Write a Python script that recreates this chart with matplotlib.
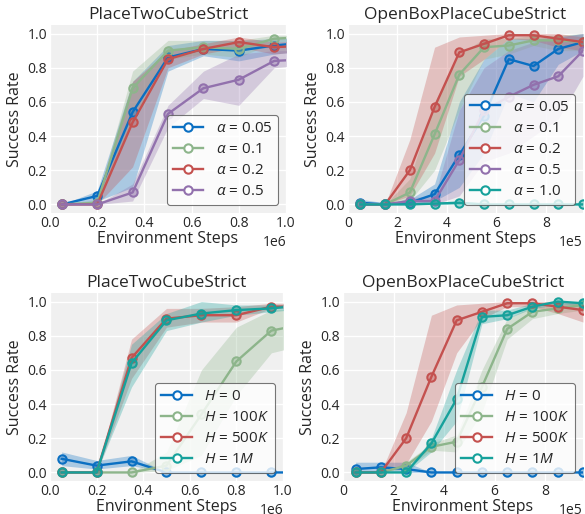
import matplotlib
matplotlib.use('Agg')
import matplotlib.pyplot as plt
from matplotlib.lines import Line2D

# ---- data ----
x_ptc = [0.05e6, 0.2e6, 0.35e6, 0.5e6, 0.65e6, 0.8e6, 0.95e6, 1.1e6]
x_obp = [0.5e5, 1.5e5, 2.5e5, 3.5e5, 4.5e5, 5.5e5, 6.5e5, 7.5e5, 8.5e5, 9.5e5]

alpha_labels_ptc = [r'$\alpha$ = 0.05', r'$\alpha$ = 0.1', r'$\alpha$ = 0.2', r'$\alpha$ = 0.5']
alpha_labels_obp = alpha_labels_ptc + [r'$\alpha$ = 1.0']
h_labels = [r'$H$ = 0', r'$H$ = 100$K$', r'$H$ = 500$K$', r'$H$ = 1$M$']

# top-left: PlaceTwoCubeStrict, alpha sweep (mean, low, high)
a_ptc_mean = [
    [0.0, 0.05, 0.54, 0.86, 0.91, 0.90, 0.93, 0.95],
    [0.0, 0.01, 0.68, 0.90, 0.92, 0.91, 0.97, 0.98],
    [0.0, 0.0, 0.48, 0.85, 0.91, 0.95, 0.92, 0.93],
    [0.0, 0.0, 0.07, 0.53, 0.68, 0.73, 0.84, 0.85],
]
a_ptc_low = [
    [0.0, 0.02, 0.10, 0.78, 0.87, 0.84, 0.88, 0.90],
    [0.0, 0.0, 0.50, 0.85, 0.88, 0.86, 0.95, 0.96],
    [0.0, 0.0, 0.22, 0.80, 0.88, 0.92, 0.88, 0.90],
    [0.0, 0.0, 0.02, 0.45, 0.62, 0.58, 0.80, 0.82],
]
a_ptc_high = [
    [0.0, 0.08, 0.72, 0.93, 0.96, 0.96, 0.97, 0.98],
    [0.0, 0.03, 0.78, 0.96, 0.96, 0.96, 0.99, 0.99],
    [0.0, 0.02, 0.72, 0.90, 0.94, 0.98, 0.95, 0.96],
    [0.0, 0.0, 0.12, 0.58, 0.78, 0.88, 0.90, 0.90],
]

# top-right: OpenBoxPlaceCubeStrict, alpha sweep
a_obp_mean = [
    [0.01, 0.0, 0.01, 0.06, 0.29, 0.52, 0.85, 0.81, 0.91, 0.95],
    [0.0, 0.0, 0.07, 0.41, 0.76, 0.92, 0.93, 0.96, 0.96, 0.95],
    [0.0, 0.0, 0.20, 0.57, 0.89, 0.94, 0.99, 0.99, 0.97, 0.95],
    [0.0, 0.0, 0.02, 0.02, 0.26, 0.55, 0.63, 0.70, 0.75, 0.90],
    [0.0, 0.0, 0.0, 0.005, 0.01, 0.0, 0.0, 0.0, 0.0, 0.0],
]
a_obp_low = [
    [0.0, 0.0, 0.0, 0.02, 0.10, 0.30, 0.65, 0.60, 0.82, 0.90],
    [0.0, 0.0, 0.02, 0.20, 0.55, 0.85, 0.88, 0.93, 0.90, 0.90],
    [0.0, 0.0, 0.05, 0.30, 0.75, 0.85, 0.97, 0.96, 0.92, 0.90],
    [0.0, 0.0, 0.0, 0.0, 0.05, 0.25, 0.30, 0.40, 0.50, 0.75],
    [0.0, 0.0, 0.0, 0.0, 0.0, 0.0, 0.0, 0.0, 0.0, 0.0],
]
a_obp_high = [
    [0.03, 0.01, 0.03, 0.12, 0.60, 0.85, 0.97, 0.97, 0.98, 1.0],
    [0.0, 0.0, 0.15, 0.60, 0.88, 0.97, 0.97, 0.99, 0.99, 1.0],
    [0.0, 0.0, 0.38, 0.92, 0.98, 0.99, 1.0, 1.0, 1.0, 0.98],
    [0.0, 0.0, 0.04, 0.05, 0.55, 0.80, 0.90, 0.95, 0.98, 1.0],
    [0.01, 0.01, 0.01, 0.015, 0.02, 0.01, 0.01, 0.01, 0.01, 0.01],
]

# bottom-left: PlaceTwoCubeStrict, H sweep
h_ptc_mean = [
    [0.08, 0.04, 0.065, 0.0, 0.0, 0.0, 0.0, 0.0],
    [0.0, 0.0, 0.0, 0.04, 0.34, 0.65, 0.83, 0.87],
    [0.0, 0.0, 0.67, 0.90, 0.92, 0.92, 0.97, 0.97],
    [0.0, 0.0, 0.64, 0.89, 0.93, 0.95, 0.96, 0.98],
]
h_ptc_low = [
    [0.04, 0.02, 0.04, 0.0, 0.0, 0.0, 0.0, 0.0],
    [0.0, 0.0, 0.0, 0.01, 0.10, 0.45, 0.70, 0.75],
    [0.0, 0.0, 0.55, 0.85, 0.88, 0.88, 0.96, 0.96],
    [0.0, 0.0, 0.50, 0.83, 0.88, 0.92, 0.94, 0.96],
]
h_ptc_high = [
    [0.12, 0.07, 0.10, 0.0, 0.0, 0.0, 0.0, 0.0],
    [0.0, 0.0, 0.0, 0.12, 0.60, 0.85, 0.95, 0.97],
    [0.0, 0.0, 0.78, 0.96, 0.96, 0.97, 0.99, 0.99],
    [0.0, 0.0, 0.75, 0.93, 1.0, 0.98, 0.98, 0.99],
]

# bottom-right: OpenBoxPlaceCubeStrict, H sweep
h_obp_mean = [
    [0.02, 0.03, 0.02, 0.0, 0.0, 0.0, 0.0, 0.0, 0.0, 0.0],
    [0.0, 0.0, 0.04, 0.15, 0.18, 0.50, 0.84, 0.94, 0.96, 0.98],
    [0.0, 0.0, 0.20, 0.56, 0.89, 0.94, 0.99, 0.99, 0.97, 0.95],
    [0.0, 0.0, 0.0, 0.17, 0.43, 0.91, 0.92, 0.97, 1.0, 0.99],
]
h_obp_low = [
    [0.0, 0.0, 0.0, 0.0, 0.0, 0.0, 0.0, 0.0, 0.0, 0.0],
    [0.0, 0.0, 0.02, 0.13, 0.12, 0.35, 0.78, 0.90, 0.93, 0.95],
    [0.0, 0.0, 0.05, 0.30, 0.70, 0.90, 0.97, 0.97, 0.93, 0.88],
    [0.0, 0.0, 0.0, 0.12, 0.30, 0.87, 0.90, 0.96, 0.98, 0.98],
]
h_obp_high = [
    [0.06, 0.06, 0.06, 0.0, 0.0, 0.0, 0.0, 0.0, 0.0, 0.0],
    [0.0, 0.0, 0.06, 0.17, 0.22, 0.60, 0.90, 0.97, 0.98, 1.0],
    [0.0, 0.0, 0.35, 0.92, 0.98, 0.99, 1.0, 1.0, 1.0, 0.99],
    [0.0, 0.0, 0.0, 0.20, 0.60, 0.95, 0.95, 0.99, 1.0, 1.0],
]

colors_a = ['#0a6fc2', '#8db58b', '#c4514f', '#9271ad', '#16a19b']
colors_h = ['#0a6fc2', '#8db58b', '#c4514f', '#16a19b']

# ---- style ----
plt.rcParams['font.family'] = ['Open Sans', 'DejaVu Sans']
plt.rcParams['mathtext.fontset'] = 'custom'
plt.rcParams['mathtext.it'] = 'Open Sans:italic'
plt.rcParams['mathtext.rm'] = 'Open Sans'
plt.rcParams['text.color'] = '#262626'
plt.rcParams['axes.labelcolor'] = '#262626'
plt.rcParams['xtick.color'] = '#262626'
plt.rcParams['ytick.color'] = '#262626'

fig = plt.figure(figsize=(5.85, 5.14), dpi=100)
W, H = 585.0, 514.0


def make_ax(left, top, right, bottom):
    return fig.add_axes([left / W, 1 - bottom / H, (right - left) / W, (bottom - top) / H])


def panel(ax, x, means, lows, highs, colors, labels, title, xmax, xticks):
    ax.set_facecolor('#f0f0f0')
    for s in ax.spines.values():
        s.set_visible(False)
    ax.grid(True, color='white', lw=1.0)
    ax.set_axisbelow(True)
    ax.tick_params(length=0, labelsize=10, pad=2)
    for m, lo, hi, c in zip(means, lows, highs, colors):
        ax.fill_between(x, lo, hi, color=c, alpha=0.3, lw=0)
        ax.plot(x, m, color=c, lw=1.7, marker='o', ms=6, mew=1.5,
                mfc=matplotlib.colors.to_rgba(c, 0.35), mec=c)
    ax.set_xlim(0, xmax)
    ax.set_ylim(-0.05, 1.05)
    ax.set_xticks(xticks)
    ax.set_yticks([0, 0.2, 0.4, 0.6, 0.8, 1.0])
    ax.ticklabel_format(axis='x', style='sci', scilimits=(0, 0))
    ax.xaxis.get_offset_text().set_fontsize(10)
    ax.set_title(title, fontsize=12.5, pad=4)
    ax.set_xlabel('Environment Steps', fontsize=11.5, labelpad=0)
    ax.set_ylabel('Success Rate', fontsize=11.5, labelpad=3)
    handles = [Line2D([], [], color=c, lw=1.7, marker='o', ms=6, mew=1.5, mfc='white', mec=c)
               for c in colors]
    leg = ax.legend(handles, labels, fontsize=11, loc='lower right', frameon=True,
                    framealpha=0.8, borderpad=0.4, labelspacing=0.4, handlelength=2.0,
                    handletextpad=0.8)
    leg.get_frame().set_edgecolor('#555555')
    leg.get_frame().set_linewidth(0.8)


ax1 = make_ax(50, 25, 286, 213)
panel(ax1, x_ptc, a_ptc_mean, a_ptc_low, a_ptc_high, colors_a[:4], alpha_labels_ptc,
      'PlaceTwoCubeStrict', 1.0e6, [0, 0.2e6, 0.4e6, 0.6e6, 0.8e6, 1.0e6])

ax2 = make_ax(348, 25, 583, 213)
panel(ax2, x_obp, a_obp_mean, a_obp_low, a_obp_high, colors_a, alpha_labels_obp,
      'OpenBoxPlaceCubeStrict', 9.5e5, [0, 2e5, 4e5, 6e5, 8e5])

ax3 = make_ax(50, 293, 283, 481)
panel(ax3, x_ptc, h_ptc_mean, h_ptc_low, h_ptc_high, colors_h, h_labels,
      'PlaceTwoCubeStrict', 1.0e6, [0, 0.2e6, 0.4e6, 0.6e6, 0.8e6, 1.0e6])

ax4 = make_ax(343, 293, 583, 481)
panel(ax4, x_obp, h_obp_mean, h_obp_low, h_obp_high, colors_h, h_labels,
      'OpenBoxPlaceCubeStrict', 9.5e5, [0, 2e5, 4e5, 6e5, 8e5])

fig.savefig('out.png', dpi=100)
